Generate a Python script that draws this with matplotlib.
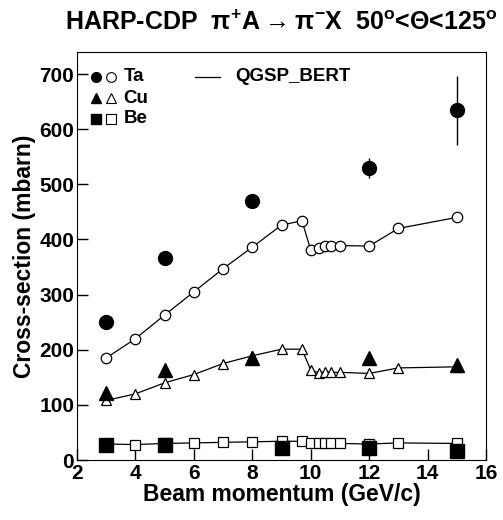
import matplotlib
matplotlib.use('Agg')
import matplotlib.pyplot as plt

plt.rcParams['font.family'] = ['Liberation Sans', 'DejaVu Sans']
plt.rcParams['font.weight'] = 'bold'
plt.rcParams['mathtext.fontset'] = 'custom'
plt.rcParams['mathtext.rm'] = 'Liberation Sans:bold'
plt.rcParams['mathtext.default'] = 'rm'

# model (QGSP_BERT) momenta
p_mc = [3, 4, 5, 6, 7, 8, 9, 9.7, 10, 10.3, 10.5, 10.7, 11, 12, 13, 15]
ta_mc = [185, 220, 263, 305, 347, 386, 426, 434, 381, 384, 388, 388, 389, 388, 420, 440]
cu_mc = [108, 120, 140, 155, 175, 189, 201, 201, 163, 158, 160, 159, 159, 157, 167, 169]
be_mc = [29, 28, 30, 31, 32, 33, 34, 34, 30, 30, 30, 30, 30, 29, 31, 30]

# data
ta_p = [3, 5, 8, 12, 15]
ta = [250, 367, 469, 530, 634]
ta_err = [5, 8, 10, 18, 62]
cu_p = [3, 5, 8, 12, 15]
cu = [122, 163, 185, 185, 172]
cu_err = [3, 4, 6, 6, 12]
be_p = [3, 5, 9, 12, 15]
be = [27, 28, 22, 22, 17]
be_err = [1, 1, 2, 2, 3]

xt = list(range(2, 17, 2))
yt = list(range(0, 701, 100))

fig = plt.figure(figsize=(5.03, 5.20), dpi=100)
ax = fig.add_axes([77/503, 60/520, 409/503, 408/520])

ms = 7.5
ax.plot(p_mc, ta_mc, '-o', color='k', mfc='white', ms=ms, lw=0.9, mew=0.9)
ax.plot(p_mc, cu_mc, '-^', color='k', mfc='white', ms=ms, lw=0.9, mew=0.9)
ax.plot(p_mc, be_mc, '-s', color='k', mfc='white', ms=ms - 0.5, lw=0.9, mew=0.9)

ax.errorbar(ta_p, ta, yerr=ta_err, fmt='o', color='k', ms=10, elinewidth=1, capsize=0)
ax.errorbar(cu_p, cu, yerr=cu_err, fmt='^', color='k', ms=10, elinewidth=1, capsize=0)
ax.errorbar(be_p, be, yerr=be_err, fmt='s', color='k', ms=10, elinewidth=1, capsize=0)

ax.set_xlim(2, 16)
ax.set_ylim(0, 740)
ax.tick_params(direction='in', length=8, width=1, pad=2)
ax.tick_params(axis='x', pad=3)
ax.set_xticks(xt)
ax.set_xticklabels([str(v) for v in xt], fontsize=15, fontweight='bold')
ax.set_yticks(yt)
ax.set_yticklabels([str(v) for v in yt], fontsize=15, fontweight='bold')

ax.set_xlabel('Beam momentum (GeV/c)', fontsize=16.5, fontweight='bold', labelpad=0)
ax.set_ylabel('Cross-section (mbarn)', fontsize=16.5, fontweight='bold', labelpad=2)

# legend drawn by hand
tr = ax.transAxes
rows = [('o', 'Ta', 0.939), ('^', 'Cu', 0.887), ('s', 'Be', 0.836)]
for m, name, yy in rows:
    ax.plot([0.047], [yy], m, color='k', ms=7, transform=tr)
    ax.plot([0.084], [yy], m, color='k', mfc='white', ms=7, mew=0.8, transform=tr)
    ax.text(0.114, yy, name, transform=tr, fontsize=13.5, fontweight='bold', va='center')
ax.plot([0.289, 0.350], [0.939, 0.939], '-', color='k', lw=0.9, transform=tr)
ax.text(0.386, 0.939, 'QGSP_BERT', transform=tr, fontsize=13.5, fontweight='bold', va='center')

fig.text(0.56, 0.957, 'HARP-CDP  π$^{+}$A${\\rightarrow}$π$^{-}$X  50$^{o}$<Θ<125$^{o}$',
         ha='center', va='center', fontsize=18, fontweight='bold')

fig.savefig('out.png', dpi=100)
